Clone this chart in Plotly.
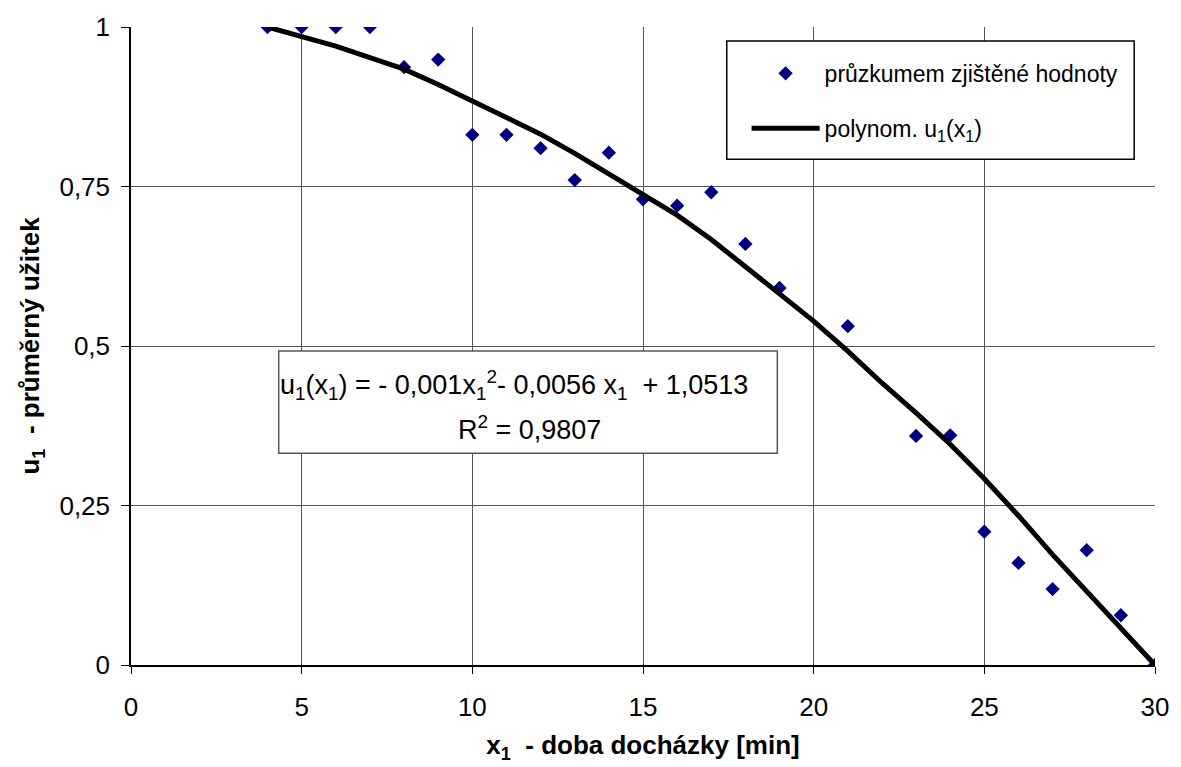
import plotly.graph_objects as go

# survey data
x_survey = [4, 5, 6, 7, 8, 9, 10, 11, 12, 13, 14, 15, 16, 17, 18, 19, 21, 23, 24, 25, 26, 27, 28, 29, 30]
u_survey = [1.0, 1.0, 1.0, 1.0, 0.937, 0.949, 0.831, 0.831, 0.810, 0.760, 0.803, 0.730, 0.720, 0.741,
            0.660, 0.591, 0.531, 0.359, 0.360, 0.209, 0.160, 0.119, 0.180, 0.078, 0.0]

# polynomial trend curve
x_poly = [4, 5, 6, 7, 8, 9, 10, 11, 12, 13, 14, 15, 16, 17, 18, 19, 20, 21, 22, 23, 24, 25, 26, 27, 28, 29, 30]
u_poly = [1.0, 0.985, 0.970, 0.952, 0.934, 0.910, 0.884, 0.857, 0.832, 0.802, 0.770, 0.738, 0.705, 0.667,
          0.625, 0.583, 0.539, 0.492, 0.442, 0.395, 0.346, 0.292, 0.234, 0.173, 0.116, 0.058, 0.0]

y_ticks = [0, 0.25, 0.5, 0.75, 1]
y_tick_text = ["0", "0,25", "0,5", "0,75", "1"]
x_ticks = [0, 5, 10, 15, 20, 25, 30]

FONT = "Liberation Sans, Arial, sans-serif"

fig = go.Figure()
fig.add_trace(go.Scatter(
    x=x_survey, y=u_survey, mode="markers", name="průzkumem zjištěné hodnoty",
    marker=dict(symbol="diamond", size=11, color="#000080"), legendgroup="a"))
fig.add_trace(go.Scatter(
    x=x_poly, y=u_poly, mode="lines", name="polynom. u<sub>1</sub>(x<sub>1</sub>)",
    line=dict(color="black", width=5), legendgroup="b"))

# plot area in px: x 131..1164, y 24..666
def px_x(p):
    return (p - 131) / (1164 - 131)

def px_y(p):
    return (666 - p) / (666 - 24)

shapes = [
    dict(type="rect", xref="paper", yref="paper", x0=px_x(732), x1=px_x(1143), y0=px_y(157), y1=px_y(38),
         line=dict(color="black", width=1.5), fillcolor="white", layer="above"),
    dict(type="rect", xref="paper", yref="paper", x0=px_x(280), x1=px_x(783), y0=px_y(453), y1=px_y(350),
         line=dict(color="#555555", width=1.5), fillcolor="white", layer="above"),
]

annotations = [
    dict(xref="paper", yref="paper", x=px_x(517), y=px_y(384), xanchor="center", yanchor="middle",
         showarrow=False, font=dict(family=FONT, size=27, color="black"),
         text="u<sub>1</sub>(x<sub>1</sub>) = - 0,001x<sub>1</sub><sup>2</sup>- 0,0056 x<sub>1</sub>  + 1,0513"),
    dict(xref="paper", yref="paper", x=px_x(533), y=px_y(428), xanchor="center", yanchor="middle",
         showarrow=False, font=dict(family=FONT, size=27, color="black"),
         text="R<sup>2</sup> = 0,9807"),
]

fig.update_layout(
    width=1181, height=767,
    margin=dict(l=131, r=1181 - 1164, t=24, b=767 - 666),
    paper_bgcolor="white", plot_bgcolor="white",
    font=dict(family=FONT, size=26, color="black"),
    showlegend=True,
    legend=dict(x=px_x(752), y=px_y(49), xanchor="left", yanchor="top",
                bgcolor="rgba(0,0,0,0)", borderwidth=0,
                font=dict(family=FONT, size=23, color="black"),
                traceorder="grouped", tracegroupgap=22, itemwidth=68),
    shapes=shapes,
    annotations=annotations,
    xaxis=dict(range=[0, 30], tickvals=x_ticks, showgrid=True, gridcolor="#555555", gridwidth=1,
               zeroline=False, showline=True, linecolor="black", linewidth=1.5,
               ticks="outside", ticklen=7, tickcolor="black", ticklabelstandoff=11,
               tickfont=dict(family=FONT, size=26),
               title=dict(text="<b>x<sub>1</sub>  - doba docházky [min]</b>", font=dict(family=FONT, size=26),
                          standoff=15)),
    yaxis=dict(range=[0, 1], tickvals=y_ticks, ticktext=y_tick_text, showgrid=True, gridcolor="#555555",
               gridwidth=1, zeroline=False, showline=True, linecolor="black", linewidth=1.5,
               ticks="outside", ticklen=8, tickcolor="black", ticklabelstandoff=6,
               tickfont=dict(family=FONT, size=26),
               title=dict(text="<b>u<sub>1</sub>  - průměrný užitek</b>", font=dict(family=FONT, size=26),
                          standoff=12)),
)

fig.write_html("out.html")
